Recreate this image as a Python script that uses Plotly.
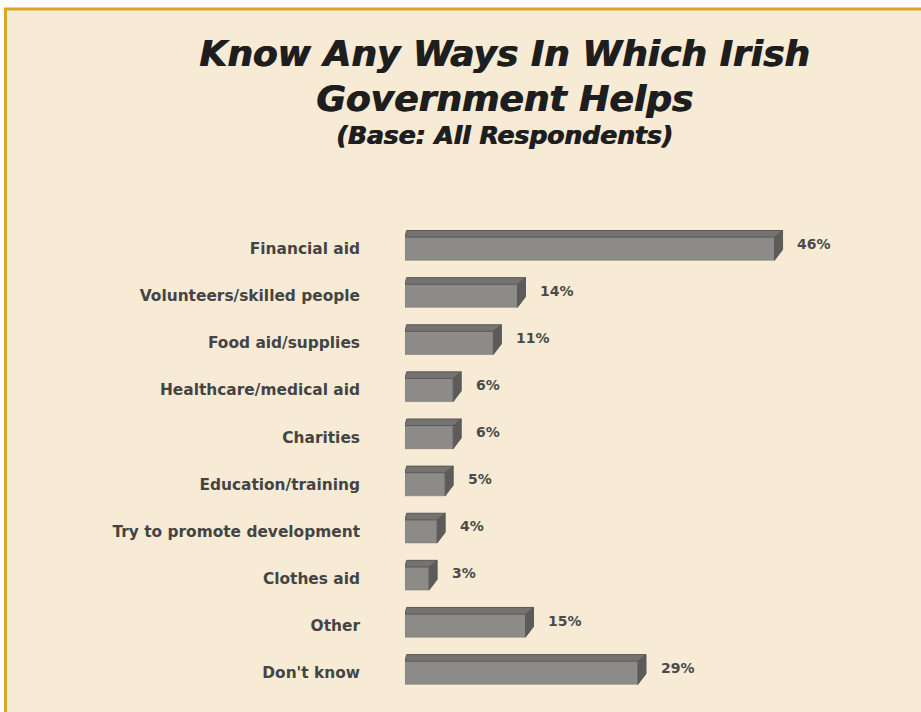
import plotly.graph_objects as go

# Survey answers, top to bottom
categories = [
    "Financial aid",
    "Volunteers/skilled people",
    "Food aid/supplies",
    "Healthcare/medical aid",
    "Charities",
    "Education/training",
    "Try to promote development",
    "Clothes aid",
    "Other",
    "Don't know",
]
percentages = [46, 14, 11, 6, 6, 5, 4, 3, 15, 29]

title_line1 = "Know Any Ways In Which Irish"
title_line2 = "Government Helps"
title_line3 = "(Base: All Respondents)"

# Page geometry (pixels)
W, H = 921, 712
ML, MR, MT, MB = 405, 34, 202, 11
PW, PH = W - ML - MR, H - MT - MB
X_MAX = 60

# Pseudo-3D extrusion of each bar
BAR_H = 0.49      # front face height, in category units
DEPTH_X = 1.0     # sideways depth, in % units
DEPTH_Y = 0.14    # upward depth, in category units
LEFT_X = 0.2      # slight slant of the top face's left edge

BG = "#f7ebd6"
FRONT = "#8c8b88"
TOP = "#747371"
SIDE = "#5c5b59"
EDGE = "#5a5957"
GOLD = "#dba726"


def px_x(px):
    return (px - ML) / PW


def px_y(py):
    return 1 - (py - MT) / PH


ys = list(range(len(categories)))

fig = go.Figure()

# front faces
fig.add_trace(go.Bar(
    x=percentages, y=ys, orientation="h", width=BAR_H,
    marker=dict(color=FRONT, line=dict(color="#7d7c79", width=0.6)),
    hoverinfo="skip",
))

# top and side faces, built from each bar's value
top_x, top_y, side_x, side_y = [], [], [], []
for y, v in zip(ys, percentages):
    t = y - BAR_H / 2
    b = y + BAR_H / 2
    top_x += [0, v, v + DEPTH_X, LEFT_X, 0, None]
    top_y += [t, t, t - DEPTH_Y, t - DEPTH_Y, t, None]
    side_x += [v, v + DEPTH_X, v + DEPTH_X, v, v, None]
    side_y += [t, t - DEPTH_Y, b - DEPTH_Y * 1.6, b, t, None]

fig.add_trace(go.Scatter(
    x=top_x, y=top_y, mode="lines", fill="toself", fillcolor=TOP,
    line=dict(color=EDGE, width=1), hoverinfo="skip",
))
fig.add_trace(go.Scatter(
    x=side_x, y=side_y, mode="lines", fill="toself", fillcolor=SIDE,
    line=dict(color=SIDE, width=1), hoverinfo="skip",
))

annotations = []
for y, v in zip(ys, percentages):
    annotations.append(dict(
        x=v + DEPTH_X + 1.6, y=y, xref="x", yref="y",
        text=f"{v}%", showarrow=False, xanchor="left", yanchor="middle",
        yshift=5,
        font=dict(family="DejaVu Sans", size=14, color="#4a4a4a", weight="bold"),
    ))

title_font = dict(family="DejaVu Sans", color="#1e1e1e", weight="bold",
                  style="italic", shadow="1px 0px 0px #1e1e1e")
for text, py, size in [(title_line1, 53, 36), (title_line2, 98, 36), (title_line3, 135, 25)]:
    annotations.append(dict(
        x=px_x(504), y=px_y(py), xref="paper", yref="paper",
        text=text, showarrow=False, xanchor="center", yanchor="middle",
        font=dict(size=size, **title_font),
    ))

fig.update_layout(
    width=W, height=H,
    margin=dict(l=ML, r=MR, t=MT, b=MB, autoexpand=False),
    paper_bgcolor="white",
    plot_bgcolor="rgba(0,0,0,0)",
    showlegend=False,
    xaxis=dict(range=[0, X_MAX], visible=False, fixedrange=True),
    yaxis=dict(
        range=[len(categories) - 0.4, -0.99],
        tickvals=ys, ticktext=categories,
        showgrid=False, zeroline=False, showline=False, ticks="",
        ticklabelstandoff=44,
        tickfont=dict(family="DejaVu Sans", size=15.4, color="#444444", weight="bold"),
        fixedrange=True,
    ),
    shapes=[dict(
        type="rect", xref="paper", yref="paper", layer="below",
        x0=px_x(5.5), x1=px_x(935), y0=px_y(725), y1=px_y(9),
        fillcolor=BG, line=dict(color=GOLD, width=3),
    )],
    annotations=annotations,
)

fig.write_html("out.html")
